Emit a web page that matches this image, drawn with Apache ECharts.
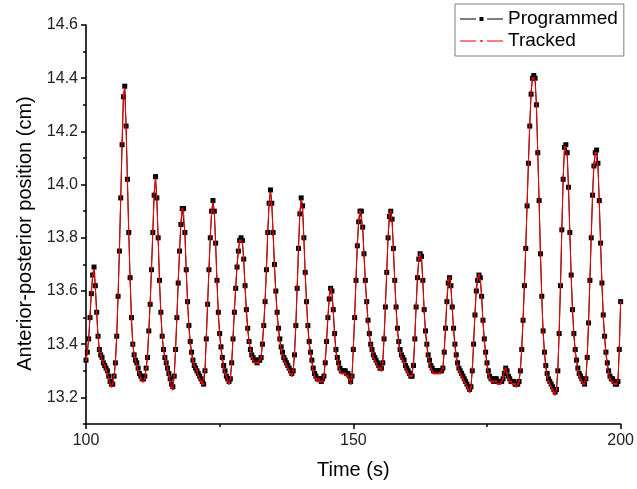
<!DOCTYPE html>
<html><head><meta charset="utf-8">
<script src="https://cdn.jsdelivr.net/npm/echarts@6/dist/echarts.min.js"></script>
<style>html,body{margin:0;padding:0;background:#fff}#c{width:637px;height:489px}</style>
</head><body><div id="c"></div>
<script>
const times = [
100,100.25,100.5,100.75,101,101.25,101.5,101.75,102,102.25,102.5,102.75,103,103.25,103.5,103.75,
104,104.25,104.5,104.75,105,105.25,105.5,105.75,106,106.25,106.5,106.75,107,107.25,107.5,107.75,
108,108.25,108.5,108.75,109,109.25,109.5,109.75,110,110.25,110.5,110.75,111,111.25,111.5,111.75,
112,112.25,112.5,112.75,113,113.25,113.5,113.75,114,114.25,114.5,114.75,115,115.25,115.5,115.75,
116,116.25,116.5,116.75,117,117.25,117.5,117.75,118,118.25,118.5,118.75,119,119.25,119.5,119.75,
120,120.25,120.5,120.75,121,121.25,121.5,121.75,122,122.25,122.5,122.75,123,123.25,123.5,123.75,
124,124.25,124.5,124.75,125,125.25,125.5,125.75,126,126.25,126.5,126.75,127,127.25,127.5,127.75,
128,128.25,128.5,128.75,129,129.25,129.5,129.75,130,130.25,130.5,130.75,131,131.25,131.5,131.75,
132,132.25,132.5,132.75,133,133.25,133.5,133.75,134,134.25,134.5,134.75,135,135.25,135.5,135.75,
136,136.25,136.5,136.75,137,137.25,137.5,137.75,138,138.25,138.5,138.75,139,139.25,139.5,139.75,
140,140.25,140.5,140.75,141,141.25,141.5,141.75,142,142.25,142.5,142.75,143,143.25,143.5,143.75,
144,144.25,144.5,144.75,145,145.25,145.5,145.75,146,146.25,146.5,146.75,147,147.25,147.5,147.75,
148,148.25,148.5,148.75,149,149.25,149.5,149.75,150,150.25,150.5,150.75,151,151.25,151.5,151.75,
152,152.25,152.5,152.75,153,153.25,153.5,153.75,154,154.25,154.5,154.75,155,155.25,155.5,155.75,
156,156.25,156.5,156.75,157,157.25,157.5,157.75,158,158.25,158.5,158.75,159,159.25,159.5,159.75,
160,160.25,160.5,160.75,161,161.25,161.5,161.75,162,162.25,162.5,162.75,163,163.25,163.5,163.75,
164,164.25,164.5,164.75,165,165.25,165.5,165.75,166,166.25,166.5,166.75,167,167.25,167.5,167.75,
168,168.25,168.5,168.75,169,169.25,169.5,169.75,170,170.25,170.5,170.75,171,171.25,171.5,171.75,
172,172.25,172.5,172.75,173,173.25,173.5,173.75,174,174.25,174.5,174.75,175,175.25,175.5,175.75,
176,176.25,176.5,176.75,177,177.25,177.5,177.75,178,178.25,178.5,178.75,179,179.25,179.5,179.75,
180,180.25,180.5,180.75,181,181.25,181.5,181.75,182,182.25,182.5,182.75,183,183.25,183.5,183.75,
184,184.25,184.5,184.75,185,185.25,185.5,185.75,186,186.25,186.5,186.75,187,187.25,187.5,187.75,
188,188.25,188.5,188.75,189,189.25,189.5,189.75,190,190.25,190.5,190.75,191,191.25,191.5,191.75,
192,192.25,192.5,192.75,193,193.25,193.5,193.75,194,194.25,194.5,194.75,195,195.25,195.5,195.75,
196,196.25,196.5,196.75,197,197.25,197.5,197.75,198,198.25,198.5,198.75,199,199.25,199.5,199.75,
200
];
const programmed = [
13.34,13.37,13.42,13.50, 13.59,13.66,13.69,13.62, 13.52,13.43,13.38,13.36, 13.35,13.33,13.32,13.31,
13.30,13.28,13.26,13.25, 13.25,13.28,13.33,13.43, 13.58,13.75,13.95,14.15, 14.33,14.37,14.22,14.02,
13.82,13.65,13.50,13.40, 13.36,13.34,13.33,13.31, 13.29,13.28,13.27,13.27, 13.28,13.31,13.35,13.45,
13.55,13.68,13.82,13.96, 14.03,13.95,13.80,13.64, 13.52,13.43,13.38,13.35, 13.33,13.31,13.29,13.27,
13.25,13.24,13.28,13.38, 13.50,13.63,13.75,13.85, 13.91,13.91,13.82,13.68, 13.56,13.47,13.41,13.37,
13.34,13.32,13.31,13.30, 13.29,13.28,13.27,13.26, 13.25,13.30,13.42,13.55, 13.68,13.80,13.90,13.94,
13.90,13.78,13.64,13.52, 13.44,13.39,13.35,13.32, 13.30,13.28,13.27,13.26, 13.27,13.33,13.42,13.52,
13.61,13.69,13.75,13.79, 13.80,13.79,13.72,13.62, 13.53,13.46,13.41,13.38, 13.36,13.35,13.34,13.34,
13.33,13.34,13.34,13.35, 13.40,13.47,13.56,13.68, 13.82,13.93,13.98,13.93, 13.82,13.70,13.60,13.52,
13.46,13.42,13.39,13.37, 13.35,13.34,13.33,13.32, 13.31,13.30,13.29,13.30, 13.36,13.47,13.61,13.76,
13.89,13.95,13.92,13.80, 13.67,13.56,13.47,13.41, 13.37,13.34,13.31,13.29, 13.28,13.27,13.27,13.27,
13.26,13.27,13.28,13.33, 13.41,13.50,13.57,13.61, 13.60,13.53,13.44,13.38, 13.35,13.33,13.31,13.30,
13.30,13.30,13.30,13.29, 13.29,13.28,13.26,13.28, 13.38,13.50,13.64,13.77, 13.86,13.90,13.90,13.84,
13.74,13.64,13.56,13.49, 13.44,13.40,13.38,13.36, 13.35,13.34,13.33,13.32, 13.31,13.31,13.33,13.42,
13.54,13.67,13.80,13.88, 13.90,13.87,13.76,13.64, 13.54,13.46,13.41,13.38, 13.36,13.35,13.34,13.32,
13.31,13.30,13.29,13.28, 13.28,13.32,13.42,13.54, 13.65,13.72,13.74,13.73, 13.64,13.53,13.45,13.40,
13.36,13.34,13.32,13.31, 13.30,13.30,13.30,13.30, 13.30,13.30,13.30,13.31, 13.37,13.46,13.56,13.63,
13.65,13.62,13.54,13.46, 13.40,13.36,13.33,13.31, 13.30,13.29,13.28,13.27, 13.26,13.25,13.24,13.23,
13.24,13.30,13.40,13.51, 13.60,13.64,13.66,13.65, 13.58,13.49,13.42,13.37, 13.33,13.30,13.28,13.27,
13.27,13.26,13.27,13.27, 13.26,13.26,13.26,13.26, 13.27,13.29,13.31,13.30, 13.28,13.27,13.26,13.26,
13.26,13.25,13.25,13.25, 13.26,13.30,13.38,13.49, 13.62,13.76,13.92,14.08, 14.22,14.34,14.40,14.41,
14.40,14.30,14.12,13.94, 13.74,13.58,13.45,13.37, 13.32,13.29,13.27,13.26, 13.25,13.24,13.23,13.22,
13.23,13.30,13.44,13.62, 13.83,14.02,14.14,14.15, 14.12,13.99,13.82,13.66, 13.53,13.44,13.38,13.34,
13.31,13.29,13.28,13.27, 13.26,13.25,13.27,13.35, 13.48,13.64,13.80,13.96, 14.07,14.12,14.13,14.08,
13.94,13.78,13.63,13.51, 13.43,13.37,13.33,13.30, 13.28,13.27,13.27,13.26, 13.25,13.25,13.26,13.38,
13.56
];
const tracked = [
13.34,13.37,13.42,13.51, 13.60,13.66,13.68,13.61, 13.51,13.43,13.38,13.36, 13.34,13.33,13.32,13.30,
13.29,13.27,13.25,13.24, 13.25,13.28,13.33,13.44, 13.59,13.76,13.96,14.16, 14.34,14.36,14.21,14.01,
13.81,13.64,13.49,13.40, 13.36,13.34,13.32,13.30, 13.29,13.27,13.26,13.26, 13.27,13.31,13.36,13.46,
13.56,13.69,13.83,13.97, 14.02,13.94,13.79,13.63, 13.51,13.43,13.38,13.35, 13.33,13.31,13.28,13.26,
13.24,13.23,13.28,13.38, 13.51,13.64,13.76,13.86, 13.91,13.90,13.81,13.67, 13.55,13.46,13.40,13.36,
13.34,13.32,13.31,13.30, 13.28,13.27,13.26,13.25, 13.25,13.30,13.43,13.56, 13.69,13.81,13.90,13.93,
13.89,13.77,13.63,13.51, 13.43,13.38,13.34,13.31, 13.29,13.28,13.26,13.25, 13.27,13.33,13.43,13.53,
13.62,13.70,13.75,13.79, 13.79,13.78,13.71,13.61, 13.52,13.45,13.41,13.38, 13.35,13.34,13.33,13.33,
13.33,13.33,13.34,13.35, 13.41,13.48,13.57,13.69, 13.83,13.93,13.97,13.92, 13.81,13.69,13.59,13.51,
13.45,13.41,13.38,13.36, 13.35,13.33,13.32,13.31, 13.30,13.29,13.28,13.30, 13.37,13.48,13.62,13.77,
13.90,13.94,13.91,13.79, 13.66,13.55,13.46,13.40, 13.36,13.33,13.30,13.28, 13.27,13.26,13.27,13.26,
13.26,13.26,13.28,13.34, 13.42,13.51,13.58,13.61, 13.59,13.52,13.43,13.37, 13.34,13.32,13.30,13.29,
13.29,13.29,13.29,13.28, 13.28,13.27,13.25,13.28, 13.39,13.51,13.65,13.78, 13.87,13.90,13.89,13.83,
13.73,13.63,13.55,13.48, 13.43,13.40,13.37,13.35, 13.34,13.33,13.32,13.31, 13.31,13.30,13.33,13.43,
13.55,13.68,13.81,13.89, 13.90,13.86,13.75,13.63, 13.53,13.45,13.40,13.37, 13.35,13.34,13.33,13.31,
13.30,13.29,13.28,13.28, 13.28,13.33,13.43,13.55, 13.66,13.72,13.74,13.72, 13.63,13.52,13.44,13.39,
13.35,13.33,13.31,13.30, 13.29,13.29,13.29,13.29, 13.29,13.29,13.30,13.31, 13.38,13.47,13.57,13.64,
13.65,13.61,13.53,13.45, 13.39,13.35,13.32,13.30, 13.29,13.28,13.27,13.26, 13.25,13.24,13.23,13.22,
13.24,13.31,13.41,13.52, 13.61,13.65,13.66,13.64, 13.57,13.48,13.41,13.36, 13.32,13.29,13.27,13.26,
13.26,13.26,13.26,13.26, 13.25,13.25,13.25,13.26, 13.27,13.30,13.31,13.29, 13.27,13.26,13.26,13.25,
13.25,13.25,13.24,13.25, 13.26,13.31,13.39,13.50, 13.63,13.77,13.93,14.09, 14.23,14.35,14.40,14.40,
14.39,14.29,14.11,13.93, 13.73,13.57,13.44,13.36, 13.31,13.28,13.26,13.25, 13.24,13.23,13.22,13.21,
13.23,13.31,13.45,13.63, 13.84,14.03,14.14,14.14, 14.11,13.98,13.81,13.65, 13.52,13.43,13.37,13.33,
13.30,13.28,13.27,13.26, 13.25,13.25,13.27,13.36, 13.49,13.65,13.81,13.97, 14.08,14.12,14.12,14.07,
13.93,13.77,13.62,13.50, 13.42,13.36,13.32,13.29, 13.27,13.26,13.26,13.25, 13.25,13.25,13.27,13.39,
13.56
];
const seriesNames = ['Programmed', 'Tracked'];
const xLabels = [100, 150, 200];
const yMajorTicks = [13.2, 13.4, 13.6, 13.8, 14.0, 14.2, 14.4, 14.6];
const yMinorTicks = [13.1, 13.3, 13.5, 13.7, 13.9, 14.1, 14.3, 14.5];

const FONT = 'Liberation Sans, Arial, sans-serif';
const chart = echarts.init(document.getElementById('c'), null, {renderer: 'canvas'});
const axisLine = {show: true, onZero: false, lineStyle: {color: '#000', width: 1.6}};
const iconSquare = 'path://M0,4.5h16v1h-16z M19.5,3h4v4h-4z M27,4.5h16v1h-16z M0,0h0.01v0.01h-0.01z M42.99,9.99h0.01v0.01h-0.01z';
const iconDot = 'path://M0,4.5h16v1h-16z M20.5,4h2v2h-2z M27,4.5h16v1h-16z M0,0h0.01v0.01h-0.01z M42.99,9.99h0.01v0.01h-0.01z';
chart.setOption({
  animation: false,
  backgroundColor: '#fff',
  grid: {left: 86, right: 15, top: 25, bottom: 65, containLabel: false},
  legend: {
    orient: 'vertical', left: 455, top: 4,
    itemWidth: 43, itemHeight: 10, itemGap: 0,
    padding: [4, 6, 4, 5],
    backgroundColor: '#fff', borderColor: '#7f7f7f', borderWidth: 1, borderRadius: 0,
    textStyle: {fontFamily: FONT, fontSize: 19, color: '#000', lineHeight: 22},
    data: [{name: seriesNames[0], icon: iconSquare, itemStyle: {color: '#000'}},
           {name: seriesNames[1], icon: iconDot, itemStyle: {color: '#ff0000'}}]
  },
  xAxis: {
    type: 'value', min: 100, max: 200, interval: 50,
    name: 'Time (s)', nameLocation: 'middle', nameGap: 36,
    nameTextStyle: {fontFamily: FONT, fontSize: 20, color: '#000'},
    axisLine: axisLine,
    axisTick: {show: true, length: 5, lineStyle: {color: '#000', width: 1.5}},
    minorTick: {show: true, splitNumber: 2, length: 3, lineStyle: {color: '#000', width: 1.5}},
    axisLabel: {fontFamily: FONT, fontSize: 16, color: '#222', margin: 9,
      customValues: xLabels},
    splitLine: {show: false}, minorSplitLine: {show: false}
  },
  yAxis: [{
    type: 'value', min: 13.1, max: 14.6, interval: 0.1, position: 'left',
    name: 'Anterior-posterior position (cm)', nameLocation: 'middle', nameGap: 50,
    nameTextStyle: {fontFamily: FONT, fontSize: 20, color: '#000', padding: [0, 18, 0, 0]},
    axisLine: axisLine,
    axisTick: {show: true, length: 5, customValues: yMajorTicks, lineStyle: {color: '#000', width: 1.5}},
    axisLabel: {fontFamily: FONT, fontSize: 16, color: '#222', margin: 8,
      customValues: yMajorTicks, formatter: v => Number(v).toFixed(1)},
    splitLine: {show: false}
  }, {
    type: 'value', min: 13.1, max: 14.6, interval: 0.1, position: 'left', offset: 0,
    axisLine: {show: false},
    axisTick: {show: true, length: 3, customValues: yMinorTicks, lineStyle: {color: '#000', width: 1.5}},
    axisLabel: {show: false},
    splitLine: {show: false}
  }],
  series: [{
    name: seriesNames[0], type: 'line', yAxisIndex: 0,
    data: times.map((t, i) => [t, programmed[i]]),
    showSymbol: true, showAllSymbol: true, symbol: 'rect', symbolSize: 5,
    itemStyle: {color: '#000'}, lineStyle: {color: '#000', width: 1},
    z: 2
  }, {
    name: seriesNames[1], type: 'line', yAxisIndex: 0,
    data: times.map((t, i) => [t, tracked[i]]),
    showSymbol: true, showAllSymbol: true, symbol: 'circle', symbolSize: 2,
    itemStyle: {color: '#ff0000'}, lineStyle: {color: '#ff0000', width: 1},
    z: 3
  }]
});
</script></body></html>
